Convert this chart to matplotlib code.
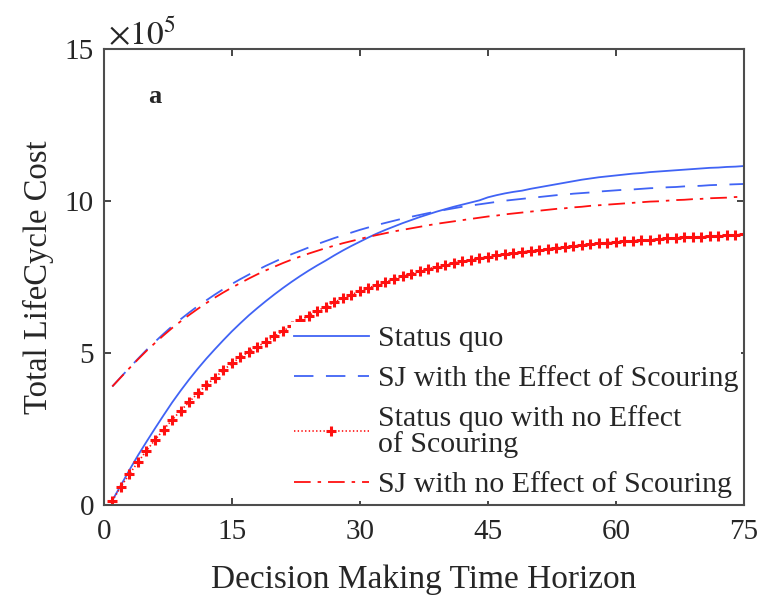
import numpy as np
import matplotlib as mpl
mpl.use('Agg')
import matplotlib.pyplot as plt
import matplotlib.ticker as ticker

plt.rcParams['font.family'] = ['Liberation Serif', 'DejaVu Serif']
plt.rcParams['mathtext.fontset'] = 'stix'
plt.rcParams['lines.scale_dashes'] = False

# decision horizon in years
years = np.arange(1, 76)

# total life-cycle cost, units of 1e5
status_quo = [
    0.15, 0.65, 1.15, 1.63, 2.08, 2.52, 2.95, 3.37, 3.76, 4.13,
    4.48, 4.81, 5.12, 5.42, 5.71, 5.98, 6.24, 6.48, 6.71, 6.93,
    7.14, 7.34, 7.53, 7.71, 7.88, 8.04, 8.21, 8.37, 8.52, 8.66,
    8.80, 8.93, 9.05, 9.16, 9.27, 9.37, 9.47, 9.56, 9.65, 9.73,
    9.81, 9.88, 9.95, 10.02, 10.12, 10.19, 10.25, 10.30, 10.34, 10.40,
    10.45, 10.50, 10.55, 10.60, 10.65, 10.70, 10.74, 10.78, 10.81, 10.84,
    10.87, 10.90, 10.92, 10.95, 10.97, 10.99, 11.01, 11.03, 11.05, 11.07,
    11.09, 11.10, 11.12, 11.13, 11.15]
sj_scour = [
    3.90, 4.21, 4.51, 4.81, 5.10, 5.37, 5.63, 5.88, 6.11, 6.33,
    6.54, 6.73, 6.92, 7.10, 7.27, 7.43, 7.58, 7.73, 7.87, 8.00,
    8.13, 8.25, 8.36, 8.47, 8.58, 8.68, 8.78, 8.87, 8.96, 9.05,
    9.13, 9.21, 9.28, 9.35, 9.42, 9.48, 9.54, 9.60, 9.66, 9.71,
    9.76, 9.81, 9.85, 9.89, 9.93, 9.97, 10.01, 10.04, 10.07, 10.10,
    10.13, 10.16, 10.19, 10.21, 10.24, 10.26, 10.28, 10.31, 10.33, 10.35,
    10.37, 10.38, 10.40, 10.42, 10.43, 10.45, 10.46, 10.48, 10.49, 10.50,
    10.52, 10.53, 10.54, 10.55, 10.56]
status_quo_no_scour = [
    0.14, 0.60, 1.02, 1.41, 1.79, 2.14, 2.48, 2.80, 3.10, 3.39,
    3.67, 3.94, 4.19, 4.43, 4.66, 4.86, 5.04, 5.21, 5.37, 5.55,
    5.72, 5.90, 6.07, 6.23, 6.38, 6.53, 6.67, 6.80, 6.92, 7.03,
    7.14, 7.24, 7.34, 7.44, 7.53, 7.61, 7.69, 7.77, 7.84, 7.90,
    7.96, 8.02, 8.07, 8.12, 8.17, 8.21, 8.25, 8.29, 8.33, 8.36,
    8.40, 8.43, 8.46, 8.49, 8.52, 8.55, 8.58, 8.61, 8.63, 8.65,
    8.67, 8.69, 8.71, 8.73, 8.75, 8.77, 8.78, 8.80, 8.81, 8.83,
    8.84, 8.86, 8.87, 8.89, 8.90]
sj_no_scour = [
    3.90, 4.20, 4.50, 4.79, 5.07, 5.33, 5.58, 5.82, 6.04, 6.25,
    6.45, 6.64, 6.82, 6.99, 7.15, 7.30, 7.45, 7.59, 7.72, 7.84,
    7.96, 8.07, 8.17, 8.27, 8.36, 8.45, 8.53, 8.61, 8.68, 8.75,
    8.82, 8.88, 8.94, 9.00, 9.05, 9.10, 9.15, 9.20, 9.25, 9.29,
    9.33, 9.37, 9.41, 9.45, 9.49, 9.52, 9.56, 9.59, 9.62, 9.65,
    9.68, 9.71, 9.74, 9.76, 9.79, 9.81, 9.84, 9.86, 9.88, 9.90,
    9.92, 9.94, 9.96, 9.98, 9.99, 10.01, 10.03, 10.04, 10.06, 10.07,
    10.09, 10.10, 10.11, 10.13, 10.14]

labels = ['Status quo',
          'SJ with the Effect of Scouring',
          'Status quo with no Effect\nof Scouring',
          'SJ with no Effect of Scouring']

blue = '#4063f5'
red = '#ff1010'
ink = '#262626'

fig = plt.figure(figsize=(7.63, 5.97), dpi=100)
ax = fig.add_axes([0.136, 0.154, 0.839, 0.764])

ax.plot(years, status_quo, color=blue, lw=1.3, label=labels[0])
ax.plot(years, sj_scour, color=blue, lw=1.3, dashes=(14, 9), label=labels[1])
ax.plot(years, status_quo_no_scour, color=red, lw=1.2, linestyle=':',
        marker='+', markersize=7, markeredgewidth=2.2, label=labels[2])
ax.plot(years, sj_no_scour, color=red, lw=1.3, dashes=(12, 5, 2.5, 5),
        label=labels[3])

ax.set_xlim(0, 75)
ax.set_ylim(0, 15)
ax.xaxis.set_major_locator(ticker.MultipleLocator(15))
ax.yaxis.set_major_locator(ticker.MultipleLocator(5))
ax.tick_params(direction='in', top=True, right=True, length=5, width=1.2,
               labelsize=21, colors=ink)
ax.tick_params(axis='x', pad=10)
ax.tick_params(axis='y', pad=7)
for sp in ax.spines.values():
    sp.set_linewidth(1.5)
    sp.set_color('#4d4d4d')

ax.set_xlabel('Decision Making Time Horizon', fontsize=24, color=ink, labelpad=14)
ax.set_ylabel('Total LifeCycle Cost', fontsize=23.5, color=ink, labelpad=8)

ax.text(0.006, 0.995, r'$\times10^{5}$', transform=ax.transAxes, fontsize=24,
        color=ink, ha='left', va='bottom')
ax.text(0.08, 0.895, 'a', transform=ax.transAxes, fontsize=19,
        fontweight='bold', color=ink, ha='center', va='center')

leg = ax.legend(loc='lower right', bbox_to_anchor=(1.005, -0.005), fontsize=21.5,
                handlelength=2.5, handletextpad=0.3, labelspacing=0.44,
                borderaxespad=0.2, borderpad=0.1, frameon=True, fancybox=False)
leg.get_frame().set_facecolor('white')
leg.get_frame().set_edgecolor('none')
leg.get_frame().set_alpha(1.0)
leg.set_zorder(2.4)  # keep the axes frame drawn over the legend box
for t in leg.get_texts():
    t.set_color(ink)
    t.set_linespacing(0.95)

fig.savefig('out.png', dpi=100)
